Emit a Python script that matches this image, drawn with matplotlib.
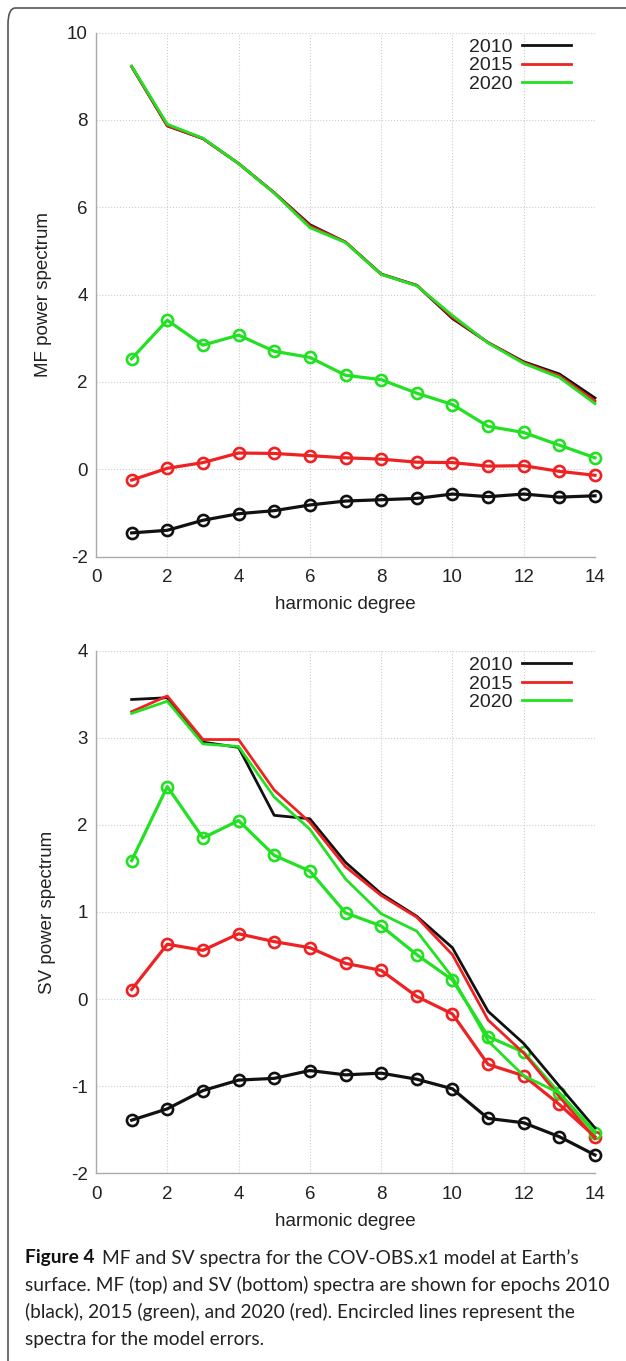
import matplotlib
matplotlib.use("Agg")
import matplotlib.pyplot as plt
from matplotlib.patches import FancyBboxPatch

# harmonic degree
degree = list(range(1, 15))

# MF spectra (top panel)
mf_2010 = [9.22, 7.86, 7.57, 7.0, 6.33, 5.6, 5.2, 4.47, 4.21, 3.45, 2.9, 2.46, 2.18, 1.63]
mf_2015 = [9.22, 7.87, 7.57, 7.0, 6.33, 5.57, 5.2, 4.46, 4.21, 3.48, 2.9, 2.44, 2.14, 1.56]
mf_2020 = [9.23, 7.9, 7.58, 7.0, 6.32, 5.53, 5.19, 4.46, 4.2, 3.52, 2.89, 2.42, 2.1, 1.5]
mf_err_2010 = [-1.46, -1.4, -1.17, -1.02, -0.95, -0.82, -0.73, -0.7, -0.67, -0.57, -0.63, -0.57, -0.64, -0.61]
mf_err_2015 = [-0.25, 0.02, 0.15, 0.37, 0.36, 0.31, 0.26, 0.23, 0.16, 0.15, 0.07, 0.08, -0.05, -0.14]
mf_err_2020 = [2.53, 3.41, 2.84, 3.07, 2.7, 2.56, 2.15, 2.05, 1.74, 1.48, 0.98, 0.84, 0.55, 0.26]

# SV spectra (bottom panel)
sv_2010 = [3.44, 3.46, 2.95, 2.89, 2.11, 2.07, 1.57, 1.21, 0.95, 0.59, -0.14, -0.51, -1.0, -1.48]
sv_2015 = [3.3, 3.48, 2.98, 2.98, 2.4, 2.03, 1.52, 1.19, 0.94, 0.51, -0.24, -0.62, -1.12, -1.6]
sv_2020 = [3.28, 3.42, 2.93, 2.9, 2.32, 1.95, 1.38, 0.98, 0.78, 0.25, -0.48, -0.88, -1.08, -1.52]
sv_err_2010 = [-1.39, -1.26, -1.05, -0.93, -0.91, -0.82, -0.87, -0.85, -0.92, -1.03, -1.37, -1.42, -1.58, -1.79]
sv_err_2015 = [0.11, 0.63, 0.56, 0.75, 0.66, 0.59, 0.41, 0.33, 0.03, -0.17, -0.75, -0.88, -1.21, -1.58]
sv_err_2020 = [1.59, 2.44, 1.85, 2.05, 1.65, 1.47, 0.99, 0.84, 0.51, 0.22, -0.43, -0.61, -1.08, -1.54]

epochs = ["2010", "2015", "2020"]
colors = ["#111111", "#ee2222", "#22e022"]

W, H = 626, 1361
plt.rcParams['font.family'] = ['Liberation Sans', 'DejaVu Sans']
plt.rcParams['axes.unicode_minus'] = False
fig = plt.figure(figsize=(W / 100, H / 100), dpi=100)

# outer rounded frame (continues past right/bottom edge)
frame = FancyBboxPatch((8 / W, -0.05), 1.2, 1 - 8 / H + 0.05,
                       boxstyle="round,pad=0,rounding_size=0.012",
                       transform=fig.transFigure, fill=False,
                       edgecolor="#555555", linewidth=1.2)
fig.patches.append(frame)


def px_axes(left, right, top, bottom):
    return fig.add_axes([left / W, 1 - bottom / H, (right - left) / W, (bottom - top) / H])


def style(ax, ylim, yticks, ylabel):
    ax.set_xlim(0, 14)
    ax.set_ylim(*ylim)
    ax.set_xticks(range(0, 15, 2))
    ax.set_yticks(yticks)
    ax.grid(True, color="#cccccc", linestyle=":", linewidth=0.8)
    ax.set_axisbelow(True)
    for s in ["top", "right"]:
        ax.spines[s].set_visible(False)
    for s in ["left", "bottom"]:
        ax.spines[s].set_color("#aaaaaa")
        ax.spines[s].set_linewidth(1.0)
    ax.tick_params(length=0, labelsize=13.5, colors="#222222")
    ax.tick_params(axis="x", pad=9)
    ax.tick_params(axis="y", pad=6)
    ax.set_xlabel("harmonic degree", fontsize=13.5, color="#222222", labelpad=7)
    ax.set_ylabel(ylabel, fontsize=13.5, color="#222222", labelpad=11)


def draw(ax, mains, errs):
    for c, e in zip(colors, errs):
        ax.plot(degree, e, color=c, linewidth=2.3, marker="o", markersize=8,
                markerfacecolor="none", markeredgewidth=1.9, clip_on=False)
    lines = []
    for c, m, lab in zip(colors, mains, epochs):
        ln, = ax.plot(degree, m, color=c, linewidth=2.0, label=lab, clip_on=False)
        lines.append(ln)
    leg = ax.legend(handles=lines, loc="upper right", frameon=False, fontsize=14,
                    markerfirst=False, handlelength=2.5, handletextpad=0.5,
                    labelspacing=0.05, borderaxespad=0.0, bbox_to_anchor=(0.967, 1.004))
    for t in leg.get_texts():
        t.set_color("#222222")


ax1 = px_axes(96, 595, 32.5, 556.5)
draw(ax1, [mf_2010, mf_2015, mf_2020], [mf_err_2010, mf_err_2015, mf_err_2020])
style(ax1, (-2, 10), range(-2, 11, 2), "MF power spectrum")

ax2 = px_axes(96, 595, 650.7, 1173.3)
draw(ax2, [sv_2010, sv_2015, sv_2020], [sv_err_2010, sv_err_2015, sv_err_2020])
style(ax2, (-2, 4), range(-2, 5, 1), "SV power spectrum")

# caption
cap_font = ['Lato', 'DejaVu Sans']
cap_size = 13.8
x0 = 25 / W
line_y = [1258, 1285, 1312, 1339]
t_bold = fig.text(x0, 1 - line_y[0] / H, "Figure 4", fontsize=cap_size, fontweight="bold",
                  family=cap_font, va="center", color="#111111")
fig.canvas.draw()
bb = t_bold.get_window_extent(fig.canvas.get_renderer())
fig.text(bb.x1 / W + 8 / W, 1 - line_y[0] / H,
         "MF and SV spectra for the COV-OBS.x1 model at Earth\u2019s",
         fontsize=cap_size, family=cap_font, va="center", color="#222222")
rest = ["surface. MF (top) and SV (bottom) spectra are shown for epochs 2010",
        "(black), 2015 (green), and 2020 (red). Encircled lines represent the",
        "spectra for the model errors."]
for y, s in zip(line_y[1:], rest):
    fig.text(x0, 1 - y / H, s, fontsize=cap_size, family=cap_font, va="center", color="#222222")

fig.savefig("out.png", dpi=100)
